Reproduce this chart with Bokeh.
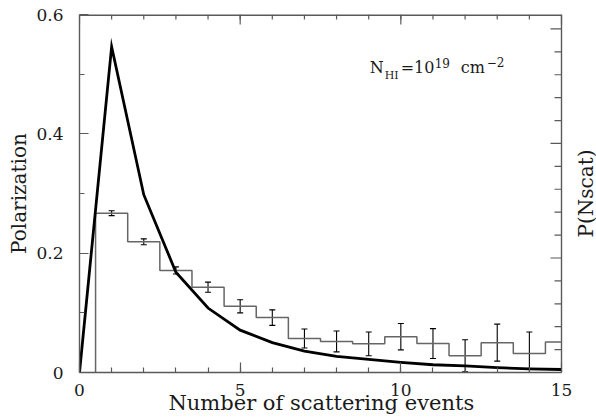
import math
from bokeh.plotting import figure
from bokeh.models import (LinearAxis, Range1d, FixedTicker, Whisker, ColumnDataSource,
                          Label, TeeHead)
from bokeh.embed import file_html
from bokeh.resources import INLINE

# ---- data ----
n_scat = list(range(0, 16))
p_nscat = [0.0, 0.546, 0.298, 0.168, 0.108, 0.071, 0.050, 0.036,
           0.027, 0.022, 0.017, 0.013, 0.011, 0.008, 0.006, 0.005]

bin_centers = list(range(1, 16))
polarization = [0.267, 0.219, 0.171, 0.143, 0.111, 0.092, 0.057, 0.052,
                0.048, 0.060, 0.0485, 0.028, 0.050, 0.032, 0.051]
pol_err = [0.004, 0.005, 0.006, 0.0085, 0.011, 0.013, 0.016, 0.0175,
           0.020, 0.022, 0.025, 0.027, 0.031, 0.036]

x_major = [0, 5, 10, 15]
x_minor = list(range(1, 15))
y_major = [0, 0.2, 0.4, 0.6]
y_minor = [0.1, 0.3, 0.5]
r_major = [0.0, 0.1, 0.2, 0.3]
r_minor = [0.02 * k for k in range(1, 16) if k % 5 != 0]

FONT = "DejaVu Serif"
AXC = "#5a5a5a"
TXT = "#1a1a1a"

W, H = 596, 417
LEFT, TOP, BOTTOM, RIGHT_PAD = 79, 14, 44, 35     # box margins in px
X0, X1 = x_major[0], x_major[-1]
Y0, Y1 = y_major[0], y_major[-1]
# the plotting area runs to the window edge so the right-hand title can sit beside the box
x_end = X1 + RIGHT_PAD * (X1 - X0) / (W - LEFT - RIGHT_PAD)

p = figure(width=W, height=H, x_range=Range1d(X0, x_end), y_range=Range1d(Y0, Y1),
           output_backend="svg", toolbar_location=None,
           x_axis_location=None, y_axis_location=None,
           min_border_left=LEFT, min_border_right=0, min_border_top=TOP,
           min_border_bottom=BOTTOM)
p.extra_y_ranges = {"pn": Range1d(0, 0.3126)}
p.outline_line_color = None
p.background_fill_color = "white"
p.border_fill_color = "white"
p.xgrid.visible = False
p.ygrid.visible = False


def style(ax, tin, tmin):
    ax.axis_line_color = AXC
    ax.axis_line_width = 1.4
    ax.major_tick_line_color = AXC
    ax.minor_tick_line_color = AXC
    ax.major_tick_line_width = 1.2
    ax.minor_tick_line_width = 1.2
    ax.major_tick_in = tin
    ax.major_tick_out = 0
    ax.minor_tick_in = tmin
    ax.minor_tick_out = 0
    ax.major_label_text_font = FONT
    ax.major_label_text_font_size = "17px"
    ax.major_label_text_color = TXT
    ax.axis_label_text_font = FONT
    ax.axis_label_text_font_size = "20px"
    ax.axis_label_text_font_style = "normal"
    ax.axis_label_text_color = TXT


# trailing no-break spaces re-centre the title under the box (the panel is wider than the box)
xb = LinearAxis(ticker=FixedTicker(ticks=x_major, minor_ticks=x_minor),
                axis_label="Number of scattering events" + "\u00a0" * 5, bounds=(X0, X1))
style(xb, 10, 5)
xb.axis_label_text_font_size = "21px"
xb.major_label_standoff = 11
xb.axis_label_standoff = -8
p.add_layout(xb, "below")

yl = LinearAxis(ticker=FixedTicker(ticks=y_major, minor_ticks=y_minor),
                axis_label="Polarization")
style(yl, 9, 5)
yl.major_label_overrides = {0: "0"}
yl.major_label_standoff = 16
yl.axis_label_standoff = 2
p.add_layout(yl, "left")

# top and right edges of the box
p.segment(x0=[X0], y0=[Y1], x1=[X1], y1=[Y1], line_color=AXC, line_width=2.8)
p.segment(x0=[X1], y0=[Y0], x1=[X1], y1=[Y1], line_color=AXC, line_width=1.4)

# inward ticks on the top and right edges
p.ray(x=x_major, y=[Y1] * len(x_major), length=10, length_units="screen",
      angle=-math.pi / 2, line_color=AXC, line_width=1.2)
p.ray(x=x_minor, y=[Y1] * len(x_minor), length=5, length_units="screen",
      angle=-math.pi / 2, line_color=AXC, line_width=1.2)
p.ray(x=[X1] * len(r_major), y=r_major, length=11, length_units="screen",
      angle=math.pi, line_color=AXC, line_width=1.2, y_range_name="pn")
p.ray(x=[X1] * len(r_minor), y=r_minor, length=7, length_units="screen",
      angle=math.pi, line_color=AXC, line_width=1.2, y_range_name="pn")

# right-hand title
p.add_layout(Label(x=X1, y=(Y0 + Y1) / 2, x_offset=24, text="P(Nscat)", angle=math.pi / 2,
                   text_font=FONT, text_font_size="20px", text_color=TXT,
                   text_align="center", text_baseline="middle"))

# histogram (step) built from bins, ending at the box edge
hx, hy = [bin_centers[0] - 0.5], [0.0]
for c, v in zip(bin_centers, polarization):
    hx += [c - 0.5, min(c + 0.5, X1)]
    hy += [v, v]
p.line(hx, hy, line_color="#666666", line_width=1.5)

# error bars
n_err = len(pol_err)
src = ColumnDataSource(dict(
    x=bin_centers[:n_err],
    lo=[max(v - e, Y0) for v, e in zip(polarization[:n_err], pol_err)],
    hi=[v + e for v, e in zip(polarization[:n_err], pol_err)]))
wh = Whisker(base="x", lower="lo", upper="hi", source=src, line_color="black",
             line_width=1.1,
             lower_head=TeeHead(size=6, line_color="black", line_width=1.1),
             upper_head=TeeHead(size=6, line_color="black", line_width=1.1))
p.add_layout(wh)

# thick curve
p.line(n_scat, p_nscat, line_color="black", line_width=2.8, line_join="miter")

# annotation N_HI = 10^19 cm^-2
ax0, ay0 = 9.0, 0.5114
pieces = [("N", 1, 0, 16), ("HI", 16, -8, 11), ("=10", 32, 0, 16), ("19", 66, 4, 12),
          ("cm", 92, 0, 16), ("\u22122", 118, 5, 12)]
for txt, dx, dy, fs in pieces:
    p.add_layout(Label(x=ax0, y=ay0, x_offset=dx, y_offset=dy, text=txt,
                       text_font=FONT, text_font_size=f"{fs}px", text_color=TXT,
                       text_baseline="alphabetic", text_align="left"))

open("out.html", "w").write(file_html(p, INLINE))
